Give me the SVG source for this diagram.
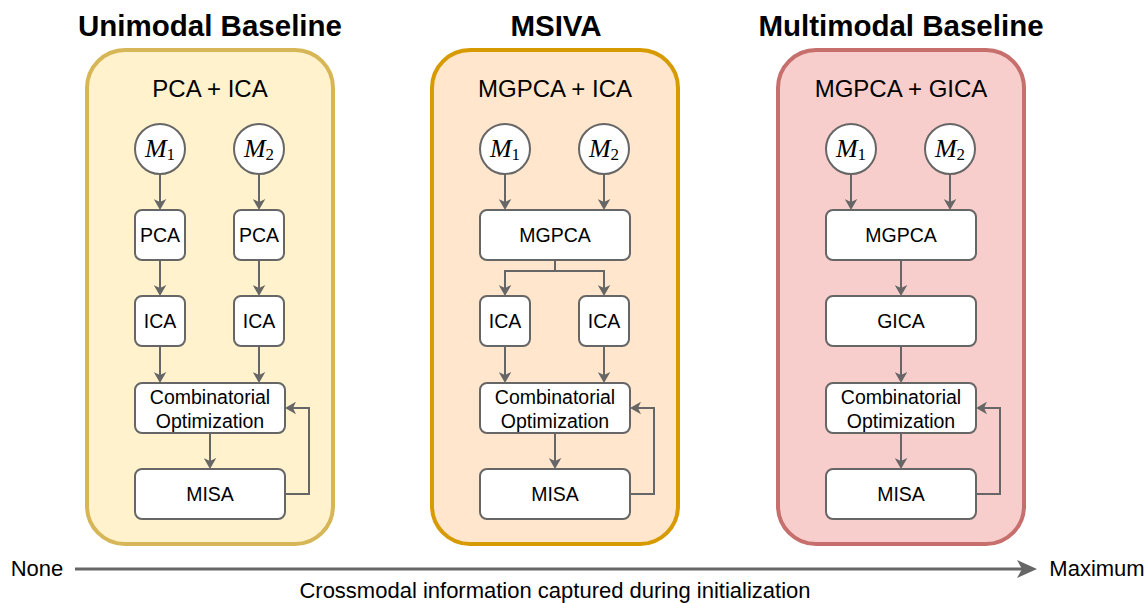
<svg xmlns="http://www.w3.org/2000/svg" width="1148" height="603" viewBox="0 0 1148 603">
<style>
.panel{stroke-width:4}
.p1{fill:#fff2cc;stroke:#d6b656}
.p2{fill:#ffe6cc;stroke:#d79b00}
.p3{fill:#f8cecc;stroke:#c66f6c}
.box{fill:#ffffff;stroke:#666666;stroke-width:2}
.circ{fill:#ffffff;stroke:#666666;stroke-width:2}
.t{font-family:"Liberation Sans",Arial,sans-serif;fill:#000000;text-anchor:middle}
.head{font-size:29.5px;font-weight:bold}
.sub{font-size:24px}
.lbl{font-size:19.5px}
.ax{font-size:22px}
.math{font-family:"Liberation Serif","Times New Roman",serif;font-size:26px;fill:#000;text-anchor:middle}
.edge{fill:none;stroke:#666666;stroke-width:2;marker-end:url(#arr)}
</style>
<defs>
<marker id="arr" markerUnits="userSpaceOnUse" markerWidth="13" markerHeight="13" viewBox="0 0 13 13" refX="5.5" refY="6.5" orient="auto">
<path d="M0.5,0.2 L11.5,6.5 L0.5,12.8 L3.5,6.5 z" fill="#666666"/>
</marker>
</defs>

<!-- headers -->
<text class="t head" x="210" y="36">Unimodal Baseline</text>
<text class="t head" x="556" y="36">MSIVA</text>
<text class="t head" x="901" y="36">Multimodal Baseline</text>

<!-- panels -->
<g id="panel-unimodal">
<rect class="panel p1" x="87" y="50" width="246" height="494" rx="38"/>
<text class="t sub" x="210" y="97">PCA + ICA</text>
</g>
<g id="panel-msiva">
<rect class="panel p2" x="432" y="50" width="246" height="494" rx="38"/>
<text class="t sub" x="555" y="97">MGPCA + ICA</text>
</g>
<g id="panel-multimodal">
<rect class="panel p3" x="778" y="50" width="246" height="494" rx="38"/>
<text class="t sub" x="901" y="97">MGPCA + GICA</text>
</g>

<!-- left nodes -->
<g id="L-M1"><circle class="circ" cx="160" cy="149" r="25"/><text class="math" x="160" y="157"><tspan font-style="italic">M</tspan><tspan font-size="17" dy="3">1</tspan></text></g>
<g id="L-M2"><circle class="circ" cx="259" cy="149" r="25"/><text class="math" x="259" y="157"><tspan font-style="italic">M</tspan><tspan font-size="17" dy="3">2</tspan></text></g>
<g id="L-PCA1"><rect class="box" x="135" y="210" width="50" height="50" rx="7"/><text class="t lbl" x="160" y="242">PCA</text></g>
<g id="L-PCA2"><rect class="box" x="234" y="210" width="50" height="50" rx="7"/><text class="t lbl" x="259" y="242">PCA</text></g>
<g id="L-ICA1"><rect class="box" x="135" y="296" width="50" height="50" rx="7"/><text class="t lbl" x="160" y="328">ICA</text></g>
<g id="L-ICA2"><rect class="box" x="234" y="296" width="50" height="50" rx="7"/><text class="t lbl" x="259" y="328">ICA</text></g>
<g id="L-CO"><rect class="box" x="135" y="383" width="150" height="50" rx="7"/><text class="t lbl" x="210" y="403.5">Combinatorial</text><text class="t lbl" x="210" y="428">Optimization</text></g>
<g id="L-MISA"><rect class="box" x="135" y="469" width="150" height="50" rx="7"/><text class="t lbl" x="210" y="501">MISA</text></g>

<!-- middle nodes -->
<g id="M-M1"><circle class="circ" cx="505" cy="149" r="25"/><text class="math" x="505" y="157"><tspan font-style="italic">M</tspan><tspan font-size="17" dy="3">1</tspan></text></g>
<g id="M-M2"><circle class="circ" cx="604" cy="149" r="25"/><text class="math" x="604" y="157"><tspan font-style="italic">M</tspan><tspan font-size="17" dy="3">2</tspan></text></g>
<g id="M-MGPCA"><rect class="box" x="480" y="210" width="150" height="50" rx="7"/><text class="t lbl" x="555" y="242">MGPCA</text></g>
<g id="M-ICA1"><rect class="box" x="480" y="296" width="50" height="50" rx="7"/><text class="t lbl" x="505" y="328">ICA</text></g>
<g id="M-ICA2"><rect class="box" x="579" y="296" width="50" height="50" rx="7"/><text class="t lbl" x="604" y="328">ICA</text></g>
<g id="M-CO"><rect class="box" x="480" y="383" width="150" height="50" rx="7"/><text class="t lbl" x="555" y="403.5">Combinatorial</text><text class="t lbl" x="555" y="428">Optimization</text></g>
<g id="M-MISA"><rect class="box" x="480" y="469" width="150" height="50" rx="7"/><text class="t lbl" x="555" y="501">MISA</text></g>

<!-- right nodes -->
<g id="R-M1"><circle class="circ" cx="851" cy="149" r="25"/><text class="math" x="851" y="157"><tspan font-style="italic">M</tspan><tspan font-size="17" dy="3">1</tspan></text></g>
<g id="R-M2"><circle class="circ" cx="950" cy="149" r="25"/><text class="math" x="950" y="157"><tspan font-style="italic">M</tspan><tspan font-size="17" dy="3">2</tspan></text></g>
<g id="R-MGPCA"><rect class="box" x="826" y="210" width="150" height="50" rx="7"/><text class="t lbl" x="901" y="242">MGPCA</text></g>
<g id="R-GICA"><rect class="box" x="826" y="296" width="150" height="50" rx="7"/><text class="t lbl" x="901" y="328">GICA</text></g>
<g id="R-CO"><rect class="box" x="826" y="383" width="150" height="50" rx="7"/><text class="t lbl" x="901" y="403.5">Combinatorial</text><text class="t lbl" x="901" y="428">Optimization</text></g>
<g id="R-MISA"><rect class="box" x="826" y="469" width="150" height="50" rx="7"/><text class="t lbl" x="901" y="501">MISA</text></g>

<!-- connectors -->
<g id="connectors">
<path class="edge" d="M160,174 V204"/>
<path class="edge" d="M259,174 V204"/>
<path class="edge" d="M160,260 V290"/>
<path class="edge" d="M259,260 V290"/>
<path class="edge" d="M160,346 V377"/>
<path class="edge" d="M259,346 V377"/>
<path class="edge" d="M210,433 V463"/>
<path class="edge" d="M285,494 H309 V408 H291"/>

<path class="edge" d="M505,174 V204"/>
<path class="edge" d="M604,174 V204"/>
<path class="edge" d="M555,260 V271 H505 V290"/>
<path class="edge" d="M555,271 H604 V290"/>
<path class="edge" d="M505,346 V377"/>
<path class="edge" d="M604,346 V377"/>
<path class="edge" d="M555,433 V463"/>
<path class="edge" d="M630,494 H654 V408 H636"/>

<path class="edge" d="M851,174 V204"/>
<path class="edge" d="M950,174 V204"/>
<path class="edge" d="M901,260 V290"/>
<path class="edge" d="M901,346 V377"/>
<path class="edge" d="M901,433 V463"/>
<path class="edge" d="M976,494 H1000 V408 H982"/>
</g>

<!-- axis -->
<g id="axis">
<line x1="75" y1="569" x2="1024" y2="569" stroke="#666666" stroke-width="3"/>
<path d="M1037,569 L1017,560 L1022,569 L1017,578 z" fill="#666666"/>
<text class="t ax" x="37" y="576">None</text>
<text class="t ax" x="1097" y="576">Maximum</text>
<text class="t ax" x="555" y="598">Crossmodal information captured during initialization</text>
</g>
</svg>
